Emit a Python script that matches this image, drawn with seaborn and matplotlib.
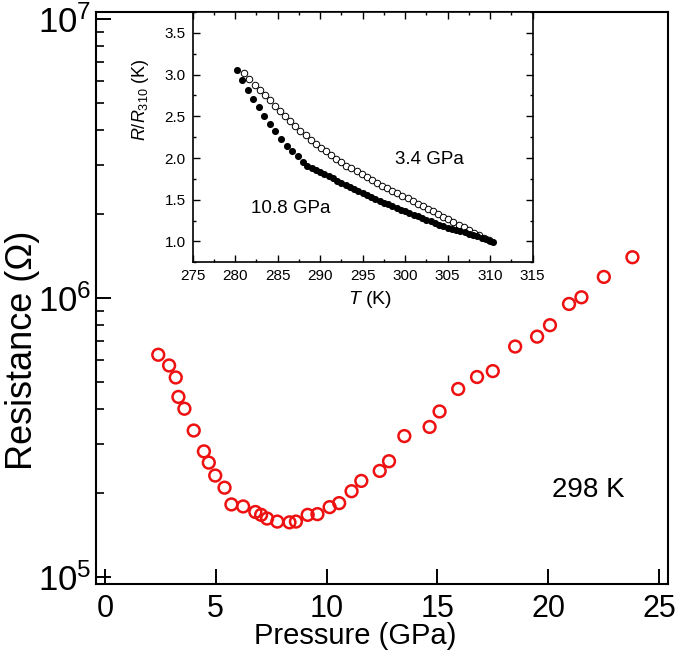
import numpy as np
import pandas as pd
import matplotlib
matplotlib.use("Agg")
import matplotlib.pyplot as plt
import matplotlib.ticker as mticker
import seaborn as sns

# ---- main panel: resistance vs pressure at 298 K ----
pressure = [2.41, 2.90, 3.20, 3.32, 3.59, 4.01, 4.47, 4.69, 4.98, 5.40,
            5.71, 6.24, 6.79, 7.05, 7.32, 7.78, 8.33, 8.62, 9.15, 9.59,
            10.14, 10.57, 11.13, 11.57, 12.40, 12.82, 13.51, 14.65, 15.10, 15.94,
            16.79, 17.50, 18.51, 19.50, 20.08, 20.94, 21.50, 22.51, 23.80]
resistance = [6.26e5, 5.73e5, 5.19e5, 4.42e5, 4.01e5, 3.35e5, 2.82e5, 2.57e5, 2.31e5, 2.09e5,
              1.82e5, 1.79e5, 1.71e5, 1.67e5, 1.62e5, 1.58e5, 1.57e5, 1.58e5, 1.67e5, 1.68e5,
              1.78e5, 1.84e5, 2.03e5, 2.21e5, 2.40e5, 2.60e5, 3.20e5, 3.45e5, 3.92e5, 4.72e5,
              5.21e5, 5.47e5, 6.70e5, 7.27e5, 7.99e5, 9.52e5, 1.006e6, 1.19e6, 1.40e6]
res_ticks = [1e5, 1e6, 1e7]
res_minor = [2e5, 3e5, 4e5, 5e5, 6e5, 7e5, 8e5, 9e5,
             2e6, 3e6, 4e6, 5e6, 6e6, 7e6, 8e6, 9e6]

# ---- inset: normalised R(T) ----
t_open = [281.1, 281.7, 282.3, 282.9, 283.5, 284.1, 284.7, 285.3, 285.9, 286.5,
          287.1, 287.7, 288.3, 288.9, 289.5, 290.1, 290.7, 291.3, 291.9, 292.5,
          293.1, 293.7, 294.3, 294.9, 295.5, 296.1, 296.7, 297.3, 297.9, 298.5,
          299.1, 299.7, 300.3, 300.9, 301.5, 302.1, 302.7, 303.3, 303.9, 304.5,
          305.1, 305.7, 306.3, 306.9, 307.5, 308.1, 308.7, 309.3, 309.9]
r_open = [3.02, 2.95, 2.88, 2.81, 2.75, 2.69, 2.62, 2.56, 2.50, 2.44,
          2.385, 2.33, 2.275, 2.22, 2.17, 2.125, 2.08, 2.035, 1.99, 1.95,
          1.91, 1.875, 1.84, 1.805, 1.77, 1.735, 1.70, 1.67, 1.64, 1.61,
          1.575, 1.545, 1.515, 1.48, 1.45, 1.42, 1.39, 1.36, 1.325, 1.295,
          1.265, 1.235, 1.20, 1.17, 1.14, 1.105, 1.075, 1.045, 1.015]

t_filled = [280.2, 280.8, 281.5, 282.1, 282.8, 283.4, 284.1, 284.7, 285.4, 286.1,
            286.7, 287.4, 288.0, 288.5, 289.0, 289.5, 290.0, 290.5, 291.0, 291.5,
            292.0, 292.5, 293.0, 293.5, 294.0, 294.5, 295.0, 295.5, 296.0, 296.5,
            297.0, 297.5, 298.0, 298.5, 299.0, 299.5, 300.0, 300.5, 301.0, 301.5,
            302.0, 302.5, 303.0, 303.5, 304.0, 304.5, 305.0, 305.5, 306.0, 306.5,
            307.0, 307.5, 308.0, 308.5, 309.0, 309.5, 310.0, 310.3]
r_filled = [3.06, 2.93, 2.82, 2.71, 2.61, 2.50, 2.41, 2.32, 2.23, 2.15,
            2.09, 2.02, 1.95, 1.91, 1.88, 1.855, 1.83, 1.805, 1.78, 1.755,
            1.73, 1.705, 1.68, 1.655, 1.63, 1.605, 1.585, 1.56, 1.535, 1.51,
            1.49, 1.465, 1.445, 1.42, 1.40, 1.38, 1.36, 1.34, 1.32, 1.30,
            1.28, 1.26, 1.24, 1.22, 1.20, 1.185, 1.165, 1.15, 1.14, 1.125,
            1.11, 1.095, 1.08, 1.06, 1.045, 1.025, 1.01, 0.995]

sns.set_style("ticks")
plt.rcParams['font.family'] = ['Liberation Sans', 'DejaVu Sans']
plt.rcParams['mathtext.fontset'] = 'custom'
plt.rcParams['mathtext.rm'] = 'Liberation Sans'
plt.rcParams['mathtext.it'] = 'Liberation Sans:italic'
for key in ['text.color', 'axes.labelcolor', 'xtick.color', 'ytick.color', 'axes.edgecolor']:
    plt.rcParams[key] = 'black'

fig = plt.figure(figsize=(6.75, 6.69), dpi=100)
main_pos = [0.1415, 0.1271, 0.848, 0.8549]

# main axes
ax = fig.add_axes(main_pos)
sns.scatterplot(x=pressure, y=resistance, ax=ax, marker='o', s=72,
                fc='none', ec='#ee1111', linewidth=1.8, zorder=3)
ax.set_yscale('log')
ax.set_xlim(-0.42, 25.4)
ax.set_ylim(10 ** 4.975, 10 ** 7.025)
ax.set_xticks([0, 5, 10, 15, 20, 25])
ax.yaxis.set_major_locator(mticker.FixedLocator(res_ticks))
ax.yaxis.set_minor_locator(mticker.NullLocator())
ax.tick_params(axis='both', which='major', direction='in', length=11, width=1.4)
ax.tick_params(axis='x', which='major', labelsize=22, pad=7)
ax.tick_params(axis='y', which='major', labelsize=25, pad=3)
for sp in ax.spines.values():
    sp.set_linewidth(1.5)

ax.set_xlabel("Pressure (GPa)", fontsize=21, va='center')
ax.xaxis.set_label_coords(0.453, -0.091)
ax.set_ylabel("Resistance (\u03a9)", fontsize=26, va='center')
ax.yaxis.set_label_coords(-0.127, 0.409)

ax.text(21.8, 10 ** 5.312, "298 K", fontsize=20, ha='center', va='center')

# overlay axes carrying the short in-between decade ticks on the left spine
ax_minor = fig.add_axes(main_pos, frameon=False)
ax_minor.patch.set_visible(False)
ax_minor.set_yscale('log')
ax_minor.set_ylim(ax.get_ylim())
ax_minor.set_xticks([])
ax_minor.yaxis.set_major_locator(mticker.FixedLocator(res_minor))
ax_minor.yaxis.set_major_formatter(mticker.NullFormatter())
ax_minor.yaxis.set_minor_locator(mticker.NullLocator())
ax_minor.tick_params(axis='y', which='major', direction='in', length=6, width=1.2,
                     left=True, right=False, labelleft=False)

# inset
axi = fig.add_axes([0.2852, 0.6079, 0.5037, 0.3741])
sns.scatterplot(x=t_open, y=r_open, ax=axi, marker='o', s=22,
                fc='white', ec='black', linewidth=0.7, zorder=3)
sns.scatterplot(x=t_filled, y=r_filled, ax=axi, marker='o', s=26,
                color='black', linewidth=0, zorder=4)
axi.set_xlim(275, 315)
axi.set_ylim(0.75, 3.75)
axi.set_xticks(np.arange(275, 316, 5))
axi.set_yticks([1.0, 1.5, 2.0, 2.5, 3.0, 3.5])
axi.xaxis.set_minor_locator(mticker.MultipleLocator(2.5))
axi.yaxis.set_minor_locator(mticker.MultipleLocator(0.25))
axi.yaxis.set_major_formatter(mticker.FormatStrFormatter('%.1f'))
axi.tick_params(axis='both', which='major', direction='in', length=5, width=1.0,
                top=True, right=True, labelsize=11, pad=5)
axi.tick_params(axis='both', which='minor', direction='in', length=2.5, width=1.0,
                top=True, right=True, left=True, bottom=True)
for sp in axi.spines.values():
    sp.set_linewidth(1.2)

axi.set_xlabel(r"$T$ (K)", fontsize=14, va='center')
axi.xaxis.set_label_coords(0.522, -0.15)
axi.set_ylabel(r"$R/R_{310}$ (K)", fontsize=13, va='center')
axi.yaxis.set_label_coords(-0.154, 0.648)

axi.text(302.9, 1.98, "3.4 GPa", fontsize=13.5, ha='center', va='center')
axi.text(286.6, 1.40, "10.8 GPa", fontsize=13.5, ha='center', va='center')

fig.savefig("out.png", dpi=100)
